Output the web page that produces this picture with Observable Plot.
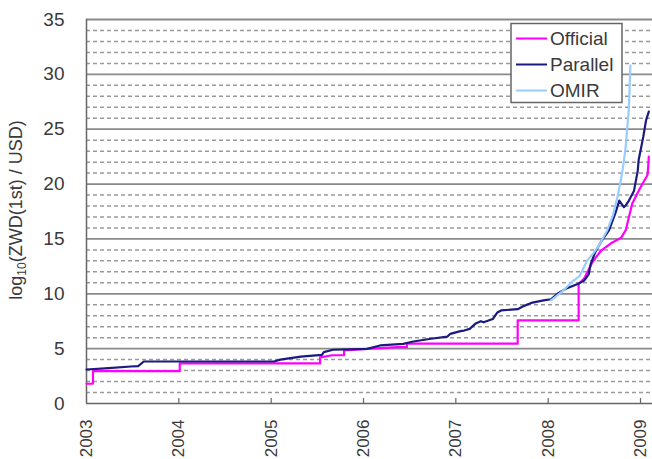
<!DOCTYPE html>
<html><head><meta charset="utf-8">
<script src="https://cdn.jsdelivr.net/npm/d3@7"></script>
<script src="https://cdn.jsdelivr.net/npm/@observablehq/plot@0.6"></script>
<style>
html,body{margin:0;padding:0;background:#fff}
#chart{position:relative;width:652px;height:459px;overflow:hidden}
</style>
</head><body><div id="chart"></div>
<script>
// ---- data (decimal years, log10 values) ----
const yearTicks = [2003, 2004, 2005, 2006, 2007, 2008, 2009];
const majorTicks = [5, 10, 15, 20, 25, 30, 35];
const minorTicks = [1,2,3,4,6,7,8,9,11,12,13,14,16,17,18,19,21,22,23,24,26,27,28,29,31,32,33,34];
const yTickLabels = [0, 5, 10, 15, 20, 25, 30, 35];

const officialYear = [2003.00,2003.07,2003.07,2004.01,2004.01,2005.53,2005.53,2005.66,2005.79,2005.79,2006.04,2006.37,2006.47,2006.47,2007.67,2007.67,2008.33,2008.33,2008.39,2008.48,2008.57,2008.68,2008.79,2008.84,2008.875,2008.91,2008.97,2009.02,2009.075,2009.08,2009.09];
const officialLog  = [1.8,1.8,2.95,2.95,3.65,3.65,4.2,4.4,4.4,4.85,4.98,5.13,5.13,5.45,5.45,7.57,7.57,10.9,11.4,12.9,13.9,14.6,15.1,15.8,17.0,18.2,19.2,20.0,20.8,21.2,22.5];

const parallelYear = [2003.00,2003.2,2003.48,2003.56,2003.62,2005.03,2005.1,2005.32,2005.55,2005.57,2005.67,2006.04,2006.18,2006.43,2006.54,2006.73,2006.91,2006.94,2007.05,2007.09,2007.15,2007.21,2007.27,2007.3,2007.4,2007.45,2007.49,2007.67,2007.74,2007.83,2007.95,2008.03,2008.1,2008.19,2008.32,2008.39,2008.44,2008.46,2008.51,2008.57,2008.66,2008.73,2008.77,2008.82,2008.84,2008.875,2008.93,2008.97,2008.98,2009.03,2009.06,2009.09];
const parallelLog  = [3.1,3.2,3.37,3.4,3.83,3.83,4.0,4.28,4.44,4.68,4.9,4.98,5.29,5.44,5.65,5.9,6.1,6.35,6.6,6.65,6.8,7.26,7.5,7.4,7.7,8.3,8.48,8.6,8.9,9.2,9.4,9.5,10.0,10.45,10.9,11.2,11.8,12.7,13.8,14.7,15.8,17.4,18.5,17.9,18.05,18.5,19.4,21.2,22.2,24.3,25.8,26.6];

const omirYear = [2008.03,2008.15,2008.26,2008.34,2008.42,2008.48,2008.55,2008.64,2008.70,2008.75,2008.79,2008.81,2008.84,2008.86,2008.875,2008.89];
const omirLog  = [9.4,10.2,11.1,11.6,13.0,13.6,14.4,15.8,17.1,18.8,20.5,21.5,23.4,25.5,27.0,30.8];

const seriesNames  = ["Official", "Parallel", "OMIR"];
const seriesColors = ["#ff00ff", "#1a1a80", "#99ccff"];

const toRows = (xs, ys) => xs.map((x, i) => ({year: x, value: ys[i]}));
const official = toRows(officialYear, officialLog);
const parallel = toRows(parallelYear, parallelLog);
const omir = toRows(omirYear, omirLog);

const plot = Plot.plot({
  width: 652,
  height: 459,
  marginLeft: 86,
  marginRight: 0,
  marginTop: 19,
  marginBottom: 56,
  style: {fontFamily: "'Liberation Sans', Arial, sans-serif", fontSize: "19px", color: "#3a3a3a", background: "#fff"},
  x: {domain: [2003, 2009.13], ticks: yearTicks, tickFormat: d => String(d), tickRotate: -90, tickSize: 0, tickPadding: 16, label: null},
  y: {domain: [0, 35], ticks: yTickLabels, tickSize: 0, tickPadding: 22, label: null},
  marks: [
    Plot.ruleY(minorTicks, {stroke: "#9a9a9a", strokeWidth: 1.5, strokeDasharray: "4,3"}),
    Plot.ruleY(majorTicks, {stroke: "#8a8a8a", strokeWidth: 1.8}),
    Plot.ruleX([2003], {stroke: "#666", strokeWidth: 1.5}),
    Plot.ruleY([0], {stroke: "#666", strokeWidth: 1.5}),
    Plot.ruleX(yearTicks.slice(1), {y1: 0, y2: 0.45, stroke: "#666", strokeWidth: 1.2}),
    Plot.line(official, {x: "year", y: "value", stroke: seriesColors[0], strokeWidth: 2.2}),
    Plot.line(parallel, {x: "year", y: "value", stroke: seriesColors[1], strokeWidth: 2.2}),
    Plot.line(omir, {x: "year", y: "value", stroke: seriesColors[2], strokeWidth: 2.2})
  ]
});

const svg = d3.select(plot);
// smaller rotated year labels so they fit like the reference
svg.selectAll("g[aria-label='x-axis tick label'] text").attr("font-size", 17);

// y-axis title
const lab = svg.append("text")
  .attr("transform", "translate(22,210) rotate(-90)")
  .attr("text-anchor", "middle")
  .attr("fill", "#3a3a3a")
  .attr("font-size", 18);
lab.append("tspan").text("log");
lab.append("tspan").attr("font-size", 12).attr("dy", 4).text("10");
lab.append("tspan").attr("dy", -4).text("(ZWD(1st) / USD)");

// legend
const lg = svg.append("g");
lg.append("rect").attr("x", 511).attr("y", 23.5).attr("width", 111).attr("height", 79)
  .attr("fill", "#fff").attr("stroke", "#666").attr("stroke-width", 1.5);
seriesNames.forEach((name, i) => {
  const cy = 38.5 + i * 26;
  lg.append("line").attr("x1", 516).attr("x2", 547).attr("y1", cy).attr("y2", cy)
    .attr("stroke", seriesColors[i]).attr("stroke-width", 2);
  lg.append("text").attr("x", 550).attr("y", cy).attr("dy", "0.35em")
    .attr("text-anchor", "start")
    .attr("fill", "#3a3a3a").attr("font-size", 19).text(name);
});

document.getElementById("chart").appendChild(plot);
</script>
</body></html>
